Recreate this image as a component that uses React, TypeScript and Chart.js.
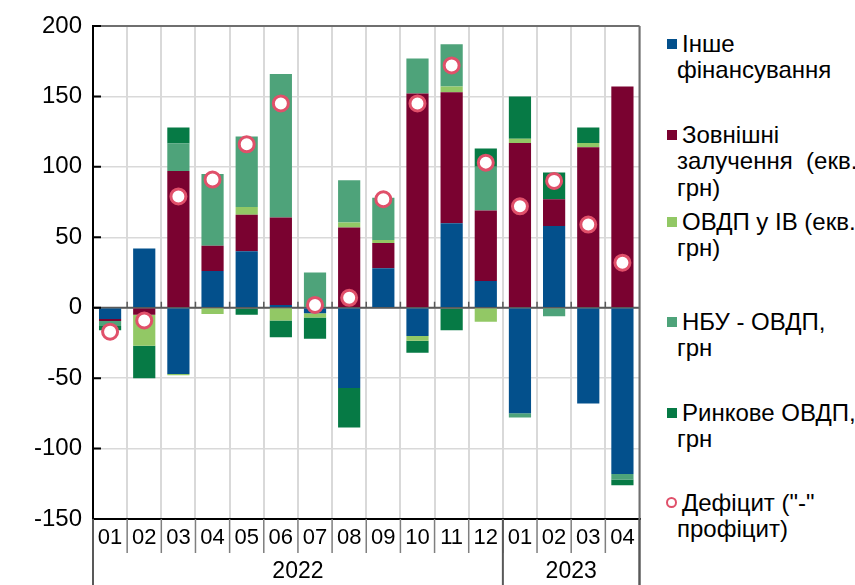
import React, { useEffect, useRef } from "react";
import { Chart, registerables } from "chart.js";

Chart.register(...registerables);

// ---- data ----
const months = ["01", "02", "03", "04", "05", "06", "07", "08", "09", "10", "11", "12", "01", "02", "03", "04"];
const years = ["2022", "2023"];
const yearSpans = [12, 4];

const otherFin = [-8, 42, -47, 26, 40, 2, -4, -57, 28, -20, 60, 19, -75, 58, -68, -118];
const external = [-1.5, -5, 97, 18, 26, 62, 0, 57, 18, 152, 93, 50, 117, 19, 114, 157];
const ovdpFx = [0, -22, -1, -4.5, 5.5, -9, -3, 3.5, 2, -3.5, 4, -10, 3, 0, 3, 0];
const nbuOvdp = [-3.5, 0, 19.5, 51, 50, 102, 25, 30, 30, 25, 30, 31, -3, -6, 0, -4];
const marketOvdp = [-3, -23, 11.5, 0, -5, -12, -15, -28, 0, -8.5, -16, 13, 30, 19, 11, -4];
const deficit = [-17, -9, 79, 91, 116, 145, 2, 7, 77, 145, 172, 103, 72, 90, 59, 32];

const yTicks = [-150, -100, -50, 0, 50, 100, 150, 200];

const seriesNames = [
  ["Інше", "фінансування"],
  ["Зовнішні", "залучення  (екв.", "грн)"],
  ["ОВДП у ІВ (екв.", "грн)"],
  ["НБУ - ОВДП,", "грн"],
  ["Ринкове ОВДП,", "грн"],
  ["Дефіцит (\"-\"", "профіцит)"],
];
const colors = ["#03508C", "#7A0230", "#92C865", "#4EA37A", "#067A45", "#E0506A"];

const FONT = "'Liberation Sans', Arial, sans-serif";

const decorPlugin = {
  id: "decor",
  afterDatasetDraw(chart: any, args: any) {
    if (args.index !== 4) return;
    const { ctx, chartArea, scales } = chart;
    const y0 = scales.y.getPixelForValue(0);
    ctx.save();
    ctx.strokeStyle = "#595959";
    ctx.lineWidth = 2;
    ctx.beginPath();
    ctx.moveTo(chartArea.left, y0);
    ctx.lineTo(chartArea.right, y0);
    ctx.stroke();
    ctx.lineWidth = 1.5;
    ctx.beginPath();
    for (let i = 1; i < months.length; i++) {
      const x = (scales.x.getPixelForValue(i - 1) + scales.x.getPixelForValue(i)) / 2;
      ctx.moveTo(x, y0);
      ctx.lineTo(x, y0 - 6);
    }
    ctx.stroke();
    ctx.restore();
  },
  afterDraw(chart: any) {
    const { ctx, chartArea, scales } = chart;
    const H = chart.height;
    ctx.save();
    ctx.strokeStyle = "#6F6F6F";
    ctx.lineWidth = 2;
    ctx.beginPath();
    ctx.moveTo(chartArea.left, chartArea.top);
    ctx.lineTo(chartArea.right, chartArea.top);
    ctx.moveTo(chartArea.right, chartArea.top);
    ctx.lineTo(chartArea.right, H);
    ctx.stroke();
    ctx.strokeStyle = "#000";
    ctx.lineWidth = 2;
    ctx.beginPath();
    for (const v of yTicks) {
      const y = scales.y.getPixelForValue(v);
      ctx.moveTo(chartArea.left, y);
      ctx.lineTo(chartArea.left + 8, y);
    }
    ctx.stroke();
    const bounds: number[] = [];
    const step = scales.x.getPixelForValue(1) - scales.x.getPixelForValue(0);
    for (let i = 0; i <= months.length; i++) {
      bounds.push(scales.x.getPixelForValue(0) - step / 2 + i * step);
    }
    ctx.strokeStyle = "#7F7F7F";
    ctx.lineWidth = 1.5;
    ctx.beginPath();
    for (let i = 1; i < months.length; i++) {
      ctx.moveTo(bounds[i], chartArea.bottom);
      ctx.lineTo(bounds[i], chartArea.bottom + 34);
    }
    ctx.stroke();
    ctx.strokeStyle = "#595959";
    ctx.lineWidth = 2;
    ctx.beginPath();
    let acc = 0;
    const longIdx = [0];
    yearSpans.forEach((s) => {
      acc += s;
      longIdx.push(acc);
    });
    for (const i of longIdx) {
      ctx.moveTo(bounds[i], chartArea.bottom);
      ctx.lineTo(bounds[i], H);
    }
    ctx.stroke();
    ctx.fillStyle = "#000";
    ctx.font = `23px ${FONT}`;
    ctx.textAlign = "center";
    ctx.textBaseline = "middle";
    let start = 0;
    years.forEach((yr, k) => {
      const end = start + yearSpans[k];
      const cx = (bounds[start] + bounds[end]) / 2;
      ctx.fillText(yr, cx, chartArea.bottom + 53);
      start = end;
    });
    ctx.restore();
  },
};

export default function App() {
  const ref = useRef<HTMLCanvasElement | null>(null);
  useEffect(() => {
    if (!ref.current) return;
    const barDs = [otherFin, external, ovdpFx, nbuOvdp, marketOvdp].map((d, i) => ({
      type: "bar" as const,
      label: seriesNames[i].join(" "),
      data: d,
      backgroundColor: colors[i],
      borderWidth: 0,
      stack: "s",
      order: 2,
      barPercentage: 0.65,
      categoryPercentage: 1,
    }));
    const chart = new Chart(ref.current, {
      type: "bar",
      data: {
        labels: months,
        datasets: [
          ...barDs,
          {
            type: "line" as const,
            label: seriesNames[5].join(" "),
            data: deficit,
            showLine: false,
            pointStyle: "circle",
            pointRadius: 7.5,
            pointBorderWidth: 3,
            pointBorderColor: colors[5],
            pointBackgroundColor: "#FFFFFF",
            order: 1,
          } as any,
        ],
      },
      options: {
        responsive: false,
        animation: false,
        devicePixelRatio: 1,
        layout: { padding: { top: 26, right: 10, left: 0, bottom: 0 } },
        plugins: { legend: { display: false }, tooltip: { enabled: false } },
        scales: {
          x: {
            stacked: true,
            offset: true,
            grid: { offset: true, color: "#D9D9D9", lineWidth: 2, drawTicks: false },
            border: { color: "#000", width: 2 },
            ticks: { color: "#000", font: { family: FONT, size: 22 }, padding: 6, maxRotation: 0, autoSkip: false },
            afterFit: (s: any) => {
              s.height = 66;
            },
          },
          y: {
            stacked: true,
            min: -150,
            max: 200,
            grid: { color: "#D9D9D9", lineWidth: 1.5, drawTicks: false },
            border: { color: "#000", width: 2 },
            ticks: { stepSize: 50, color: "#000", font: { family: FONT, size: 24 }, padding: 11 },
            afterFit: (s: any) => {
              s.width = 93;
            },
          },
        },
      },
      plugins: [decorPlugin],
    });
    return () => chart.destroy();
  }, []);

  const itemCenters = [44, 135, 222, 322, 413, 503];

  return (
    <div style={{ position: "fixed", left: 0, top: 0, width: 855, height: 585, background: "#fff", overflow: "hidden" }}>
      <canvas ref={ref} width={650} height={585} style={{ position: "absolute", left: 0, top: 0 }} />
      {seriesNames.map((lines, i) => (
        <div key={i}>
          {i < 5 ? (
            <div
              style={{
                position: "absolute",
                left: 667,
                top: itemCenters[i] - 5,
                width: 10,
                height: 10,
                background: colors[i],
              }}
            />
          ) : (
            <div
              style={{
                position: "absolute",
                left: 666,
                top: itemCenters[i] - 6,
                width: 7,
                height: 7,
                borderRadius: "50%",
                border: `2.5px solid ${colors[5]}`,
                background: "#fff",
              }}
            />
          )}
          <div
            style={{
              position: "absolute",
              left: 677,
              top: itemCenters[i] - 13,
              font: `24px ${FONT}`,
              lineHeight: "26.3px",
              color: "#000",
              whiteSpace: "pre",
            }}
          >
            {lines.map((l, k) => (
              <div key={k} style={{ paddingLeft: k === 0 ? 5 : 0 }}>
                {l}
              </div>
            ))}
          </div>
        </div>
      ))}
    </div>
  );
}
